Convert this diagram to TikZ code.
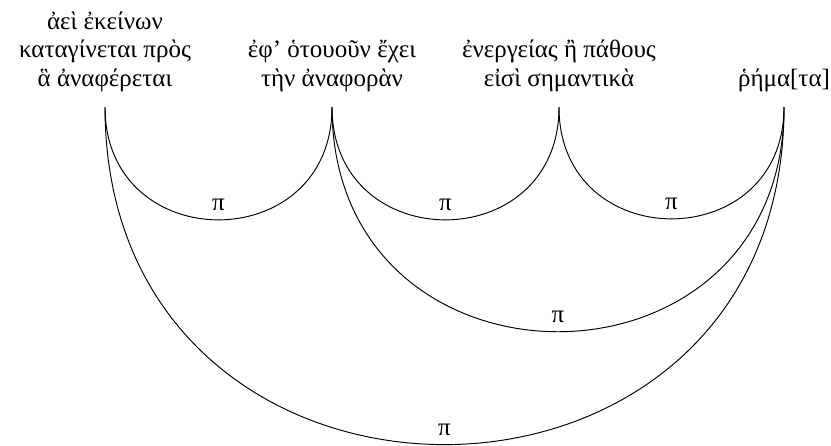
\documentclass[tikz,border=0pt]{standalone}
\usepackage{fontspec}
\setmainfont{Liberation Serif}
\begin{document}
\begin{tikzpicture}[x=0.42pt,y=-0.42pt,
  word/.style={align=center, anchor=south, inner sep=0pt, outer ysep=6.5pt, font=\fontsize{10.5}{12}\selectfont},
  arcto/.style={out=-90, in=-90, looseness=1.7},
  lab/.style={above=1pt, inner sep=2.5pt, font=\fontsize{10.5}{12}\selectfont}]
\useasboundingbox (0,0) rectangle (831,445);
\node[word] (a) at (105,107) {ἀεὶ ἐκείνων\\καταγίνεται πρὸς\\ἃ ἀναφέρεται};
\node[word] (b) at (332,107) {ἐφ’ ὁτουοῦν ἔχει\\τὴν ἀναφορὰν};
\node[word] (c) at (559,107) {ἐνεργείας ἢ πάθους\\εἰσὶ σημαντικὰ};
\node[word] (d) at (784,107) {ῥήμα[τα]};
\draw (a.south) to[arcto] node[lab] {π} (b.south);
\draw (b.south) to[arcto] node[lab] {π} (c.south);
\draw (c.south) to[arcto] node[lab] {π} (d.south);
\draw (b.south) to[arcto] node[lab] {π} (d.south);
\draw (a.south) to[arcto] node[lab] {π} (d.south);
\end{tikzpicture}
\end{document}
